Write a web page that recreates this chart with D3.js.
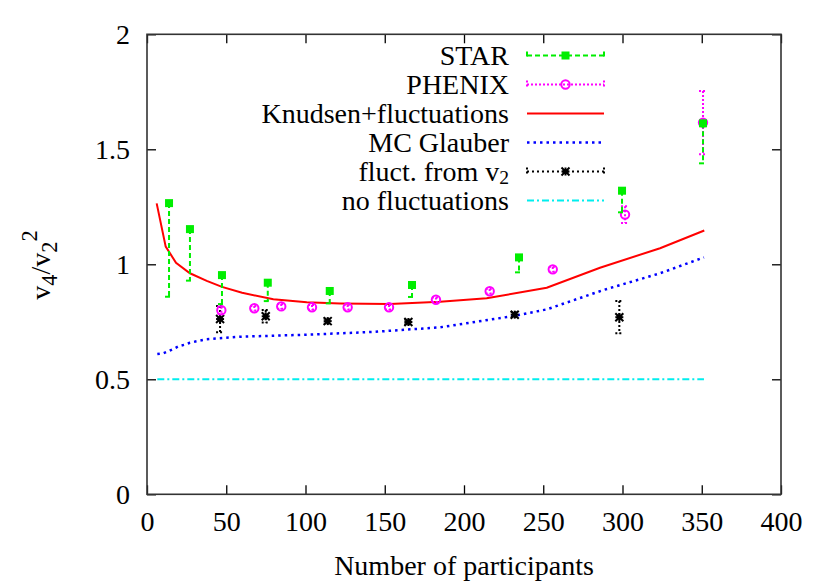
<!DOCTYPE html>
<html><head><meta charset="utf-8">
<script src="https://cdn.jsdelivr.net/npm/d3@7"></script>
<style>body{margin:0;background:#fff} text{font-family:"Liberation Serif","DejaVu Serif",serif;}</style>
</head><body><svg id="c" width="830" height="581"></svg>
<script>
// ---- data ----
const xTicks = [0, 50, 100, 150, 200, 250, 300, 350, 400];
const yTicks = [0, 0.5, 1, 1.5, 2];
const yTickLabels = ["0", "0.5", "1", "1.5", "2"];

const starX   = [13.9, 27.1, 47.3, 76.2, 115.3, 167.2, 234.7, 299.7, 350.8];
const starY   = [1.266, 1.153, 0.953, 0.920, 0.884, 0.910, 1.030, 1.320, 1.613];
const starLow = [0.859, 0.929, 0.827, 0.840, 0.830, 0.858, 0.965, 1.226, 1.439];

const phenixX   = [46.9, 67.7, 84.7, 104.1, 126.6, 152.7, 182.3, 216.2, 256.0, 301.6, 350.8];
const phenixY   = [0.800, 0.809, 0.817, 0.813, 0.813, 0.813, 0.846, 0.883, 0.978, 1.216, 1.616];
const phenixErr = [0.015, 0.010, 0.010, 0.010, 0.010, 0.010, 0.010, 0.010, 0.010, 0.036, 0.137];

const knudsenX = [6.1, 11.8, 18.3, 27.1, 37.7, 47.3, 60, 79.7, 100.8, 121.8, 153.3, 184.9, 214.3, 252.2, 285.8, 323.7, 351.6];
const knudsenY = [1.265, 1.077, 1.007, 0.961, 0.928, 0.902, 0.876, 0.848, 0.835, 0.830, 0.827, 0.837, 0.852, 0.898, 0.985, 1.070, 1.147];

const glauberX = [6.5, 10.3, 13.4, 16.6, 20.4, 23.5, 27.1, 30.5, 37.7, 58.7, 100.8, 142.8, 184.9, 231.1, 252.2, 287.9, 323.7, 351.4];
const glauberY = [0.610, 0.613, 0.622, 0.632, 0.645, 0.650, 0.659, 0.664, 0.674, 0.685, 0.694, 0.706, 0.726, 0.775, 0.804, 0.888, 0.961, 1.030];

const flX   = [46.1, 74.9, 114.0, 164.9, 232.0, 298.0];
const flY   = [0.762, 0.774, 0.753, 0.749, 0.781, 0.770];
const flErr = [0.057, 0.027, 0.010, 0.010, 0.010, 0.070];

const noFlX = [6.5, 351.4];
const noFlY = [0.5, 0.5];

const legendLabels = ["STAR", "PHENIX", "Knudsen+fluctuations", "MC Glauber", "fluct. from v", "no fluctuations"];

// ---- styles ----
const GREEN = "#00ee00", MAGENTA = "#ff00ff", RED = "#ff0000", BLUE = "#0000ff", BLACK = "#000000", CYAN = "#00eeee";

const svg = d3.select("#c");
const x = d3.scaleLinear().domain([0, 400]).range([147, 781]);
const y = d3.scaleLinear().domain([0, 2]).range([494.3, 34.3]);
const FS = 28;

function styleAxis(g) {
  g.attr("font-family", null);
  g.select(".domain").remove();
  g.selectAll(".tick line").attr("stroke", "#000").attr("stroke-width", 1.3);
  g.selectAll(".tick text").attr("font-size", FS).attr("fill", "#000");
}
svg.append("g").attr("transform", `translate(0,${y(0)})`)
  .call(d3.axisBottom(x).tickValues(xTicks).tickSize(-9).tickPadding(17).tickFormat(d3.format("d")))
  .call(styleAxis);
svg.append("g").attr("transform", `translate(${x(0)},0)`)
  .call(d3.axisLeft(y).tickValues(yTicks).tickSize(-9).tickPadding(17).tickFormat((d, i) => yTickLabels[i]))
  .call(styleAxis);
svg.append("g").attr("transform", `translate(0,${y(2)})`)
  .call(d3.axisTop(x).tickValues(xTicks).tickSize(-9).tickFormat(""))
  .call(styleAxis);
svg.append("g").attr("transform", `translate(${x(400)},0)`)
  .call(d3.axisRight(y).tickValues(yTicks).tickSize(-9).tickFormat(""))
  .call(styleAxis);

// frame
svg.append("rect").attr("x", x(0)).attr("y", y(2))
  .attr("width", x(400) - x(0)).attr("height", y(0) - y(2))
  .attr("fill", "none").attr("stroke", "#333").attr("stroke-width", 1.6);

// axis titles
svg.append("text").attr("x", (x(0) + x(400)) / 2).attr("y", 575)
  .attr("text-anchor", "middle").attr("font-size", FS).text("Number of participants");
const yl = svg.append("text").attr("transform", "translate(50,265) rotate(-90)")
  .attr("text-anchor", "middle").attr("font-size", FS);
yl.append("tspan").text("v");
yl.append("tspan").attr("dy", 7).attr("font-size", FS * 0.8).text("4");
yl.append("tspan").attr("dy", -7).text("/v");
yl.append("tspan").attr("dy", 7).attr("font-size", FS * 0.8).text("2");
yl.append("tspan").attr("dy", -20).attr("font-size", FS * 0.8).text("2");

// lines
const line = d3.line().x(d => x(d[0])).y(d => y(d[1]));
const plot = svg.append("g");
plot.append("path").datum(noFlX.map((v, i) => [v, noFlY[i]])).attr("d", line)
  .attr("fill", "none").attr("stroke", CYAN).attr("stroke-width", 2).attr("stroke-dasharray", "7,3,2,3");
plot.append("path").datum(glauberX.map((v, i) => [v, glauberY[i]])).attr("d", line)
  .attr("fill", "none").attr("stroke", BLUE).attr("stroke-width", 2.5).attr("stroke-dasharray", "2.5,4");
plot.append("path").datum(knudsenX.map((v, i) => [v, knudsenY[i]])).attr("d", line)
  .attr("fill", "none").attr("stroke", RED).attr("stroke-width", 2);

function errbar(g, cx, y1, y2, color, dash, capTop, capBottom) {
  g.append("line").attr("x1", cx).attr("x2", cx).attr("y1", y1).attr("y2", y2)
    .attr("stroke", color).attr("stroke-width", 2).attr("stroke-dasharray", dash);
  if (capTop) g.append("line").attr("x1", cx - 4).attr("x2", cx + 4).attr("y1", y1).attr("y2", y1)
    .attr("stroke", color).attr("stroke-width", 2).attr("stroke-dasharray", dash);
  if (capBottom) g.append("line").attr("x1", cx - 4).attr("x2", cx + 4).attr("y1", y2).attr("y2", y2)
    .attr("stroke", color).attr("stroke-width", 2).attr("stroke-dasharray", dash);
}
function square(g, cx, cy, color) {
  g.append("rect").attr("x", cx - 4).attr("y", cy - 4).attr("width", 8).attr("height", 8).attr("fill", color);
}
function circle(g, cx, cy, color) {
  g.append("circle").attr("cx", cx).attr("cy", cy).attr("r", 4.2)
    .attr("fill", "none").attr("stroke", color).attr("stroke-width", 2);
}
function star(g, cx, cy, color) {
  const s = 4;
  [[-s, 0, s, 0], [0, -s, 0, s], [-s, -s, s, s], [-s, s, s, -s]].forEach(p =>
    g.append("line").attr("x1", cx + p[0]).attr("y1", cy + p[1]).attr("x2", cx + p[2]).attr("y2", cy + p[3])
      .attr("stroke", color).attr("stroke-width", 2));
  g.append("rect").attr("x", cx - 2.5).attr("y", cy - 2.5).attr("width", 5).attr("height", 5).attr("fill", color);
}

flX.forEach((v, i) => {
  errbar(plot, x(v), y(flY[i] + flErr[i]), y(flY[i] - flErr[i]), BLACK, "2,2", true, true);
  star(plot, x(v), y(flY[i]), BLACK);
});
phenixX.forEach((v, i) => {
  errbar(plot, x(v), y(phenixY[i] + phenixErr[i]), y(phenixY[i] - phenixErr[i]), MAGENTA, "2,2", true, true);
  circle(plot, x(v), y(phenixY[i]), MAGENTA);
});
starX.forEach((v, i) => {
  errbar(plot, x(v), y(starY[i]), y(starLow[i]), GREEN, "5,3", false, true);
  square(plot, x(v), y(starY[i]), GREEN);
});

// legend
const lg = svg.append("g");
const lx1 = 527, lx2 = 604, lxm = 565.5, textX = 509;
legendLabels.forEach((lab, i) => {
  const ly = 55.5 + 29 * i;
  const t = lg.append("text").attr("x", textX).attr("y", ly + 9.5).attr("text-anchor", "end").attr("font-size", FS);
  if (i === 4) {
    t.append("tspan").text(lab);
    t.append("tspan").attr("dy", 3).attr("font-size", FS * 0.7).text("2");
  } else t.text(lab);
  const ln = (color, dash, w) => lg.append("line").attr("x1", lx1).attr("x2", lx2).attr("y1", ly).attr("y2", ly)
    .attr("stroke", color).attr("stroke-width", w).attr("stroke-dasharray", dash);
  const cap = (color, dash) => [lx1, lx2].forEach(cx => lg.append("line").attr("x1", cx).attr("x2", cx)
    .attr("y1", ly - 4).attr("y2", ly + 4).attr("stroke", color).attr("stroke-width", 2).attr("stroke-dasharray", dash));
  if (i === 0) { ln(GREEN, "5,3", 2); cap(GREEN, "5,3"); square(lg, lxm, ly, GREEN); }
  if (i === 1) { ln(MAGENTA, "2,2", 2); cap(MAGENTA, "2,2"); circle(lg, lxm, ly, MAGENTA); }
  if (i === 2) { ln(RED, null, 2); }
  if (i === 3) { ln(BLUE, "2.5,4", 2.5); }
  if (i === 4) { ln(BLACK, "2,3", 2); cap(BLACK, "2,2"); star(lg, lxm, ly, BLACK); }
  if (i === 5) { ln(CYAN, "7,3,2,3", 2); }
});
</script></body></html>
